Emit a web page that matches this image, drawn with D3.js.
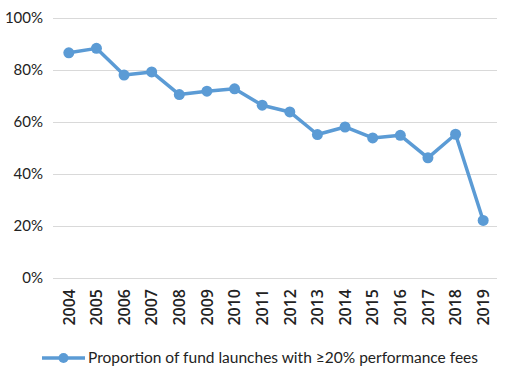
<!DOCTYPE html>
<html>
<head>
<meta charset="utf-8">
<script src="https://cdn.jsdelivr.net/npm/d3@7"></script>
<style>
  html, body { margin: 0; padding: 0; background: #fff; }
</style>
</head>
<body>
<div id="chart"></div>
<script>
// Proportion of fund launches with >=20% performance fees, 2004-2019

const years = ['2004', '2005', '2006', '2007', '2008', '2009', '2010', '2011',
               '2012', '2013', '2014', '2015', '2016', '2017', '2018', '2019'];
const shares = [86.6, 88.3, 78.0, 79.2, 70.5, 71.8, 72.7, 66.4,
                63.8, 55.1, 58.0, 53.8, 54.8, 46.1, 55.2, 22.0];
const yTicks = [0, 20, 40, 60, 80, 100];
const seriesName = 'Proportion of fund launches with \u226520% performance fees';

const W = 510, H = 375;
const BLUE = '#5B9BD5';
const margin = { top: 18, right: 13, bottom: 98, left: 55 };

const svg = d3.select('#chart')
  .append('svg')
  .attr('width', W)
  .attr('height', H);

const x = d3.scaleBand()
  .domain(years)
  .range([margin.left, W - margin.right]);

const y = d3.scaleLinear()
  .domain([0, 100])
  .range([H - margin.bottom + 0.5, margin.top]);

// gridlines
svg.append('g')
  .selectAll('line')
  .data(yTicks)
  .join('line')
  .attr('x1', margin.left - 2)
  .attr('x2', W - margin.right)
  .attr('y1', d => Math.round(y(d)) + 0.5)
  .attr('y2', d => Math.round(y(d)) + 0.5)
  .attr('stroke', '#d9d9d9')
  .attr('stroke-width', 1);

// y axis labels
const yAxis = svg.append('g')
  .attr('transform', 'translate(' + (margin.left - 12) + ',0)')
  .call(d3.axisLeft(y).tickValues(yTicks).tickSize(0).tickPadding(0).tickFormat(d => d + '%'));
yAxis.select('.domain').remove();
yAxis.selectAll('text')
  .attr('font-family', 'Lato, sans-serif')
  .attr('font-size', 15)
  .attr('fill', '#222');

// x axis labels (rotated)
const xAxis = svg.append('g')
  .attr('transform', 'translate(0,' + (H - margin.bottom) + ')')
  .call(d3.axisBottom(x).tickSize(0).tickPadding(0));
xAxis.select('.domain').remove();
xAxis.selectAll('text')
  .attr('font-family', '"Open Sans", sans-serif')
  .attr('font-weight', 600)
  .attr('font-size', 16)
  .attr('fill', '#222')
  .attr('text-anchor', 'end')
  .attr('dy', '0.36em')
  .attr('transform', 'translate(0,12) rotate(-90)')
  .attr('x', 0)
  .attr('y', 0);

// line + markers
const cx = d => x(d) + x.bandwidth() / 2;
const pts = years.map((yr, i) => [cx(yr), y(shares[i])]);

svg.append('path')
  .datum(pts)
  .attr('d', d3.line())
  .attr('fill', 'none')
  .attr('stroke', BLUE)
  .attr('stroke-width', 3.5)
  .attr('stroke-linejoin', 'round');

svg.append('g')
  .selectAll('circle')
  .data(pts)
  .join('circle')
  .attr('cx', d => d[0])
  .attr('cy', d => d[1])
  .attr('r', 5.5)
  .attr('fill', BLUE);

// legend
const lg = svg.append('g').attr('transform', 'translate(42,358)');
lg.append('line')
  .attr('x1', 0).attr('x2', 43)
  .attr('stroke', BLUE).attr('stroke-width', 3.5);
lg.append('circle')
  .attr('cx', 21.5).attr('r', 5).attr('fill', BLUE);
lg.append('text')
  .attr('x', 46)
  .attr('dy', '0.35em')
  .attr('font-family', 'Lato, sans-serif')
  .attr('font-size', 15.5)
  .attr('fill', '#222')
  .text(seriesName);
</script>
</body>
</html>
